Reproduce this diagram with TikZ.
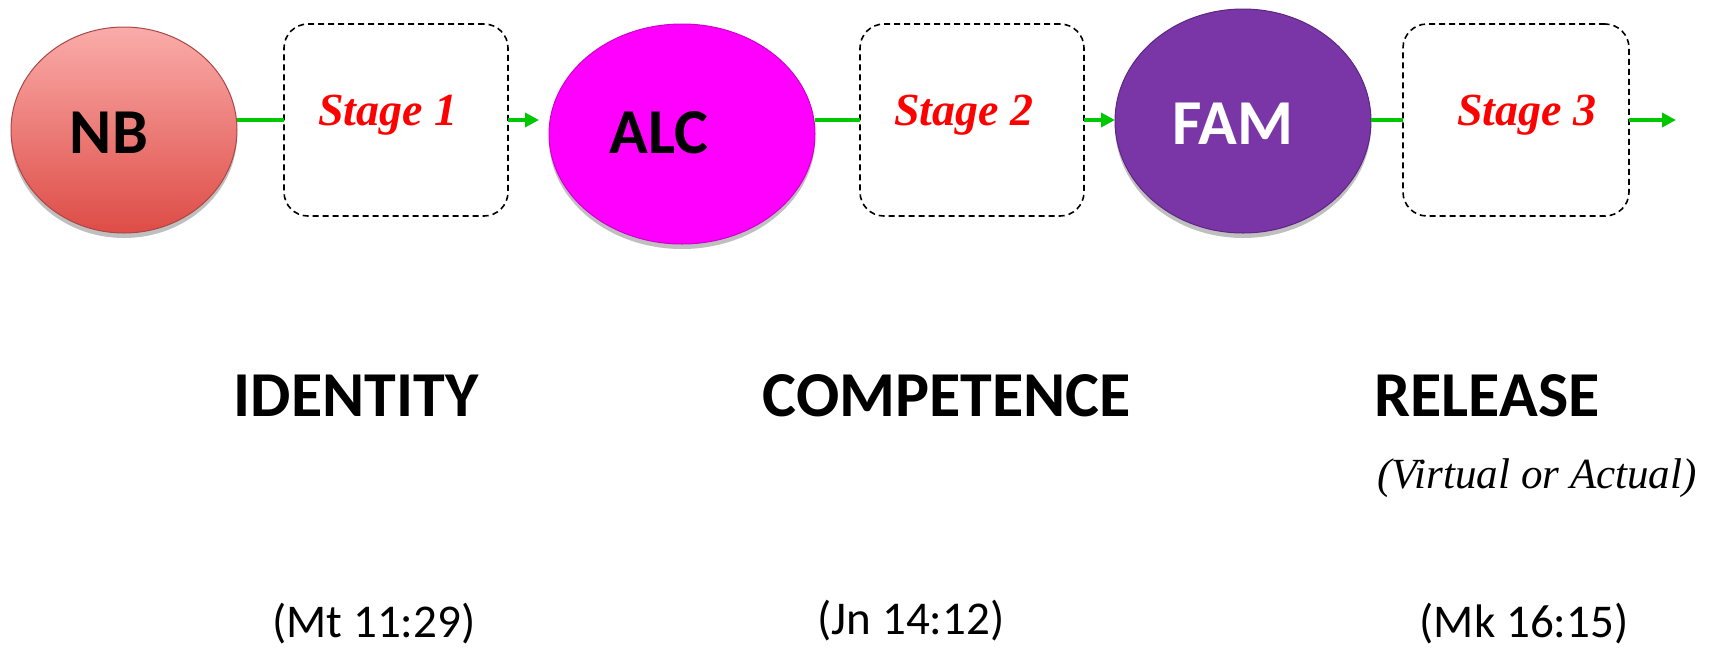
\documentclass[tikz,border=0pt]{standalone}
\usepackage{fontspec}
\setmainfont{Carlito}
\newfontfamily\serifit{Liberation Serif}
\usetikzlibrary{arrows.meta,shadows,shapes.geometric}
\definecolor{nbtop}{RGB}{250,172,170}
\definecolor{nbbot}{RGB}{222,76,70}
\definecolor{nbdraw}{RGB}{170,70,70}
\definecolor{alcfill}{RGB}{255,0,255}
\definecolor{alcdraw}{RGB}{205,0,205}
\definecolor{famfill}{RGB}{122,54,166}
\definecolor{famdraw}{RGB}{92,38,130}
\definecolor{arrowgreen}{RGB}{0,200,0}
\begin{document}
\begin{tikzpicture}[x=1pt,y=-1pt,
  blob/.style={ellipse, inner sep=0pt, outer sep=0pt, line width=1pt,
    drop shadow={shadow xshift=0pt, shadow yshift=-5pt, opacity=0.25, fill=black}},
  stagebox/.style={draw=black, dash pattern=on 6pt off 4pt, line width=1.6pt,
    rounded corners=24pt, minimum width=224pt, minimum height=192pt, inner sep=0pt, outer sep=0pt},
  bigtxt/.style={inner sep=0pt, font=\fontsize{64}{70}\selectfont\bfseries},
  stagetxt/.style={inner sep=0pt, text=red, font=\fontsize{46}{52}\selectfont\serifit\bfseries\itshape},
  reftxt/.style={inner sep=0pt, font=\fontsize{47}{52}\selectfont},
  gline/.style={draw=arrowgreen, line width=3.5pt},
  garrow/.style={draw=arrowgreen, line width=3.5pt, -{Triangle[length=14pt,width=14pt]}}
]
\useasboundingbox (0,0) rectangle (1714,649);

% circles
\node[blob, minimum width=226pt, minimum height=206pt, top color=nbtop, bottom color=nbbot, draw=nbdraw] (NB) at (124,130) {};
\node[blob, minimum width=266pt, minimum height=220pt, fill=alcfill, draw=alcdraw] (ALC) at (682,134) {};
\node[blob, minimum width=256pt, minimum height=224pt, fill=famfill, draw=famdraw] (FAM) at (1243,121) {};

\node[bigtxt] (NBt) at (109,133) {NB};
\node[bigtxt] (ALCt) at (659,133) {ALC};
\node[bigtxt, text=white] (FAMt) at (1233,124) {FAM};

% stage boxes
\node[stagebox] (S1) at (396,120) {};
\node[stagebox] (S2) at (972,120) {};
\node[stagebox, minimum width=226pt] (S3) at (1516,120) {};

\node[stagetxt] (S1t) at (388,115) {Stage 1};
\node[stagetxt] (S2t) at (964,115) {Stage 2};
\node[stagetxt] (S3t) at (1527,115) {Stage 3};

% connectors
\coordinate (end) at (1676,120);
\draw[gline] (NB.east |- S1.west) -- (S1.west);
\draw[garrow] (S1.east) -- ([xshift=-10pt]ALC.west |- S1.east);
\draw[gline] (ALC.east |- S2.west) -- (S2.west);
\draw[garrow] (S2.east) -- (FAM.west |- S2.east);
\draw[gline] (FAM.east |- S3.west) -- (S3.west);
\draw[garrow] (S3.east) -- (end);

% bottom labels
\node[bigtxt] (id) at (356,396) {IDENTITY};
\node[bigtxt] (comp) at (947,396) {COMPETENCE};
\node[bigtxt] (rel) at (1487,396) {RELEASE};
\node[inner sep=0pt, font=\fontsize{43}{48}\selectfont\serifit\itshape] (va) at (1537,478) {(Virtual or Actual)};

\node[reftxt] (mt) at (374,624) {(Mt 11:29)};
\node[reftxt] (jn) at (911,621) {(Jn 14:12)};
\node[reftxt] (mk) at (1524,624) {(Mk 16:15)};
\end{tikzpicture}
\end{document}
